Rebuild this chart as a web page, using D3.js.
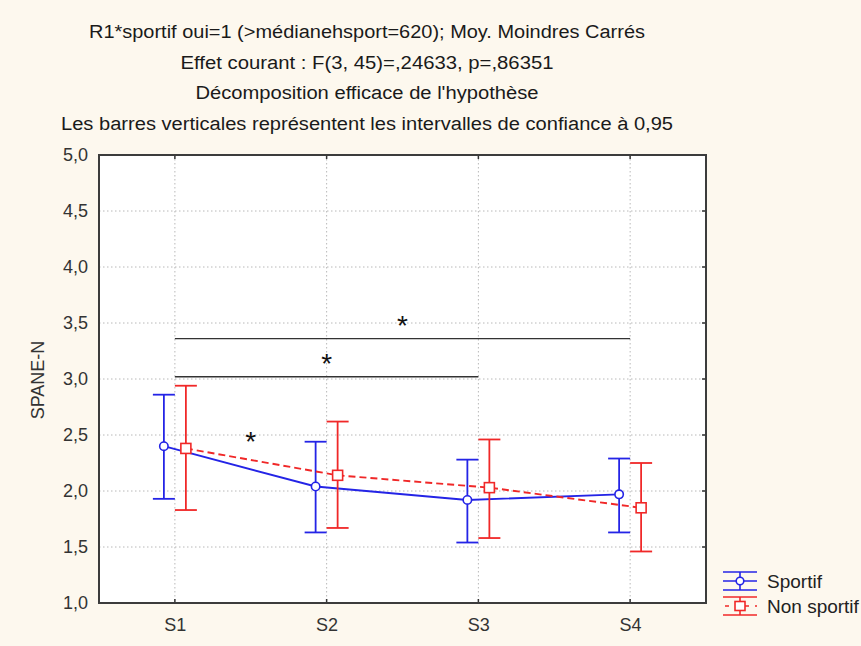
<!DOCTYPE html>
<html lang="fr">
<head>
    <meta charset="UTF-8">
    <title>SPANE-N</title>
    <script src="https://d3js.org/d3.v7.min.js"></script>
    <style>
        body { margin: 0; background: #fdf8ee; }
        text { font-family: "Liberation Sans Narrow", "Arial Narrow", "Liberation Sans", Arial, sans-serif; fill: #222; }
        .grid line { stroke: #b8b8b8; stroke-dasharray: 1.5, 2.5; }
    </style>
</head>
<body>
<svg width="861" height="646"></svg>

<script>
    // data
    var sessions = ['S1', 'S2', 'S3', 'S4'];
    var yTicks = [1.0, 1.5, 2.0, 2.5, 3.0, 3.5, 4.0, 4.5, 5.0];

    var sportifMean = [2.40, 2.04, 1.92, 1.97];
    var sportifLow  = [1.93, 1.63, 1.54, 1.63];
    var sportifHigh = [2.86, 2.44, 2.28, 2.29];

    var nonMean = [2.38, 2.14, 2.03, 1.85];
    var nonLow  = [1.83, 1.67, 1.58, 1.46];
    var nonHigh = [2.94, 2.62, 2.46, 2.25];

    // significance brackets: from, to, level
    var sigFrom = ['S1', 'S1'];
    var sigTo = ['S4', 'S3'];
    var sigLevel = [3.36, 3.02];
    var starS1S2 = 2.47;

    var titles = [
        'R1*sportif oui=1 (>médianehsport=620); Moy. Moindres Carrés',
        'Effet courant : F(3, 45)=,24633, p=,86351',
        'Décomposition efficace de l\'hypothèse',
        'Les barres verticales représentent les intervalles de confiance à 0,95'
    ];
    var titleWidths = [556, 373, 343, 612];

    var svg = d3.select('svg');
    var pLeft = 99, pRight = 706, pTop = 155, pBottom = 603;
    var plainFont = '"Liberation Sans", Arial, sans-serif';

    var x = d3.scalePoint().domain(sessions).range([pLeft, pRight]).padding(0.5);
    var y = d3.scaleLinear().domain([1, 5]).range([pBottom, pTop]);

    var series = [
        {name: 'Sportif', color: '#2424e6', dash: null, shift: -11, mean: sportifMean, low: sportifLow, high: sportifHigh, marker: 'circle'},
        {name: 'Non sportif', color: '#f02828', dash: '7,4', shift: 11, mean: nonMean, low: nonLow, high: nonHigh, marker: 'square'}
    ];

    // titles
    svg.selectAll('.title')
        .data(titles)
        .enter().append('text')
        .attr('class', 'title')
        .attr('x', 367)
        .attr('y', function (d, i) { return 38 + i * 30.5; })
        .attr('text-anchor', 'middle')
        .style('font-size', '18px')
        .style('fill', '#1a1a1a')
        .attr('textLength', function (d, i) { return titleWidths[i]; })
        .attr('lengthAdjust', 'spacingAndGlyphs')
        .text(function (d) { return d; });

    // plot background
    svg.append('rect')
        .attr('x', pLeft).attr('y', pTop)
        .attr('width', pRight - pLeft).attr('height', pBottom - pTop)
        .attr('fill', '#fff');

    // grid
    var grid = svg.append('g').attr('class', 'grid');
    grid.selectAll('.h')
        .data(yTicks.slice(1, -1))
        .enter().append('line')
        .attr('x1', pLeft).attr('x2', pRight)
        .attr('y1', function (d) { return y(d); })
        .attr('y2', function (d) { return y(d); });
    grid.selectAll('.v')
        .data(sessions)
        .enter().append('line')
        .attr('x1', function (d) { return x(d); })
        .attr('x2', function (d) { return x(d); })
        .attr('y1', pTop).attr('y2', pBottom);

    // axes
    var yAxis = d3.axisLeft(y)
        .tickValues(yTicks)
        .tickSize(0)
        .tickPadding(11)
        .tickFormat(function (d) { return d3.format('.1f')(d).replace('.', ','); });
    var gY = svg.append('g')
        .attr('transform', 'translate(' + pLeft + ',0)')
        .call(yAxis);
    gY.select('.domain').remove();
    gY.selectAll('text')
        .attr('dy', '0.28em')
        .style('font-family', plainFont)
        .style('font-size', '18px')
        .style('fill', '#333');

    var xAxis = d3.axisBottom(x).tickSize(0).tickPadding(15);
    var gX = svg.append('g')
        .attr('transform', 'translate(0,' + pBottom + ')')
        .call(xAxis);
    gX.select('.domain').remove();
    gX.selectAll('text')
        .style('font-family', plainFont)
        .style('font-size', '18px')
        .style('fill', '#333');

    // small inward ticks
    var ticks = svg.append('g').attr('stroke', '#333').attr('stroke-width', 1.5);
    sessions.forEach(function (s) {
        ticks.append('line').attr('x1', x(s)).attr('x2', x(s)).attr('y1', pBottom).attr('y2', pBottom - 4);
        ticks.append('line').attr('x1', x(s)).attr('x2', x(s)).attr('y1', pTop).attr('y2', pTop + 4);
    });
    yTicks.slice(1, -1).forEach(function (v) {
        ticks.append('line').attr('x1', pRight).attr('x2', pRight - 4).attr('y1', y(v)).attr('y2', y(v));
    });

    // frame
    svg.append('rect')
        .attr('x', pLeft).attr('y', pTop)
        .attr('width', pRight - pLeft).attr('height', pBottom - pTop)
        .attr('fill', 'none')
        .attr('stroke', '#3c3c3c')
        .attr('stroke-width', 2);

    svg.append('text')
        .attr('transform', 'translate(44,' + (y(3) + 1) + ') rotate(-90)')
        .attr('text-anchor', 'middle')
        .style('font-family', plainFont)
        .style('font-size', '18px')
        .style('fill', '#333')
        .text('SPANE-N');

    // significance brackets
    var sig = svg.append('g');
    sigLevel.forEach(function (lv, i) {
        sig.append('line')
            .attr('x1', x(sigFrom[i])).attr('x2', x(sigTo[i]))
            .attr('y1', y(lv)).attr('y2', y(lv))
            .attr('stroke', '#333').attr('stroke-width', 1.3);
        sig.append('text')
            .attr('x', (x(sigFrom[i]) + x(sigTo[i])) / 2)
            .attr('y', y(lv) - 4)
            .attr('text-anchor', 'middle')
            .style('font-family', plainFont)
            .style('font-size', '28px')
            .style('fill', '#111')
            .text('*');
    });
    sig.append('text')
        .attr('x', (x('S1') + x('S2')) / 2)
        .attr('y', y(starS1S2) + 13)
        .attr('text-anchor', 'middle')
        .style('font-family', plainFont)
        .style('font-size', '28px')
        .style('fill', '#111')
        .text('*');

    // series
    var capHalf = 11;
    series.forEach(function (s) {
        var g = svg.append('g');
        var pts = sessions.map(function (c, i) { return [x(c) + s.shift, y(s.mean[i])]; });

        g.append('path')
            .attr('d', d3.line()(pts))
            .attr('fill', 'none')
            .attr('stroke', s.color)
            .attr('stroke-width', 1.9)
            .attr('stroke-dasharray', s.dash);

        sessions.forEach(function (c, i) {
            var cx = x(c) + s.shift;
            g.append('line')
                .attr('x1', cx).attr('x2', cx)
                .attr('y1', y(s.low[i])).attr('y2', y(s.high[i]))
                .attr('stroke', s.color).attr('stroke-width', 1.8);
            [s.low[i], s.high[i]].forEach(function (v) {
                g.append('line')
                    .attr('x1', cx - capHalf).attr('x2', cx + capHalf)
                    .attr('y1', y(v)).attr('y2', y(v))
                    .attr('stroke', s.color).attr('stroke-width', 1.8);
            });
            if (s.marker === 'circle') {
                g.append('circle')
                    .attr('cx', cx).attr('cy', y(s.mean[i])).attr('r', 4.2)
                    .attr('fill', '#fff').attr('stroke', s.color).attr('stroke-width', 1.6);
            } else {
                g.append('rect')
                    .attr('x', cx - 5).attr('y', y(s.mean[i]) - 5)
                    .attr('width', 10).attr('height', 10)
                    .attr('fill', '#fff').attr('stroke', s.color).attr('stroke-width', 1.6);
            }
        });
    });

    // legend
    var legend = svg.append('g');
    series.forEach(function (s, i) {
        var cy = 581 + i * 25;
        var lx = 723, rx = 757, mx = (lx + rx) / 2;
        var g = legend.append('g');
        g.append('line').attr('x1', lx).attr('x2', rx).attr('y1', cy - 9).attr('y2', cy - 9)
            .attr('stroke', s.color).attr('stroke-width', 1.6);
        g.append('line').attr('x1', lx).attr('x2', rx).attr('y1', cy + 9).attr('y2', cy + 9)
            .attr('stroke', s.color).attr('stroke-width', 1.6);
        g.append('line').attr('x1', mx).attr('x2', mx).attr('y1', cy - 9).attr('y2', cy + 9)
            .attr('stroke', s.color).attr('stroke-width', 1.6);
        g.append('line').attr('x1', lx).attr('x2', rx).attr('y1', cy).attr('y2', cy)
            .attr('stroke', s.color).attr('stroke-width', 1.6)
            .attr('stroke-dasharray', s.dash ? '4,6' : null)
            .attr('stroke-dashoffset', s.dash ? -2 : null);
        if (s.marker === 'circle') {
            g.append('circle').attr('cx', mx).attr('cy', cy).attr('r', 3.8)
                .attr('fill', '#fff').attr('stroke', s.color).attr('stroke-width', 1.6);
        } else {
            g.append('rect').attr('x', mx - 5).attr('y', cy - 4.5).attr('width', 10).attr('height', 9)
                .attr('fill', '#fff').attr('stroke', s.color).attr('stroke-width', 1.6);
        }
        g.append('text')
            .attr('x', 767).attr('y', cy + 7)
            .style('font-family', plainFont)
            .style('font-size', '19px')
            .style('fill', '#222')
            .text(s.name);
    });
</script>
</body>
</html>
